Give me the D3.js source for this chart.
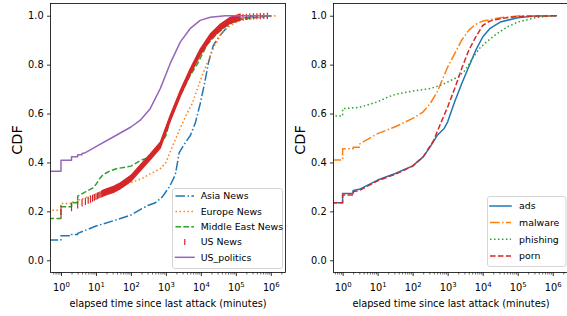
<!DOCTYPE html>
<html>
<head>
<meta charset="utf-8">
<script src="https://cdn.jsdelivr.net/npm/d3@7"></script>
<style>
  html, body { margin: 0; padding: 0; background: #fff; }
  svg { display: block; font-family: "DejaVu Sans", sans-serif; }
</style>
</head>
<body>
<svg id="chart" width="567" height="316"></svg>
<script>
// ---------------- DATA (minutes, CDF) ----------------
// 0 minutes cannot be placed on a log axis: drawn from the left edge
const asiaMin   = [0, 1, 1, 2, 2, 3, 3, 10, 32, 100, 200, 316, 500, 800, 1000, 1260, 1860, 2400, 3550, 5000, 6900, 9550, 12600, 16600, 22900, 35500, 69000, 107000, 316000, 1000000];
const asiaCdf   = [0.083, 0.083, 0.10, 0.10, 0.105, 0.105, 0.11, 0.14, 0.162, 0.185, 0.21, 0.225, 0.235, 0.26, 0.28, 0.30, 0.35, 0.44, 0.48, 0.51, 0.56, 0.64, 0.72, 0.81, 0.88, 0.92, 0.967, 0.988, 0.997, 1.0];

const europeMin = [0, 1, 1, 2, 2, 3, 3, 10, 32, 100, 200, 355, 700, 1000, 1580, 2570, 4000, 5600, 7900, 11200, 16600, 25100, 39800, 70800, 126000, 316000, 1000000, 1400000];
const europeCdf = [0.205, 0.205, 0.232, 0.232, 0.238, 0.238, 0.245, 0.27, 0.29, 0.318, 0.333, 0.353, 0.375, 0.40, 0.47, 0.54, 0.60, 0.64, 0.70, 0.76, 0.82, 0.88, 0.93, 0.96, 0.98, 0.99, 0.997, 1.0];

const meMin     = [0, 1, 1, 2, 2, 3, 3, 5, 8, 10, 13, 16, 25, 40, 100, 200, 316, 400, 500, 630, 1000, 1320, 2570, 4900, 7760, 14800, 28800, 55000, 95500, 316000, 1000000];
const meCdf     = [0.171, 0.171, 0.219, 0.219, 0.235, 0.235, 0.262, 0.28, 0.295, 0.31, 0.335, 0.35, 0.365, 0.375, 0.385, 0.41, 0.42, 0.43, 0.445, 0.465, 0.51, 0.575, 0.675, 0.755, 0.80, 0.88, 0.927, 0.96, 0.98, 0.993, 1.0];

// US News: every distinct elapsed time is a stack of '|' markers from the previous CDF to this CDF
const usNewsStart = 0.185;
const usNewsMin = [1, 2, 3, 4, 5, 6, 7, 8, 9, 10, 11, 12, 13, 14, 15, 20, 32, 50, 100, 185, 355, 690, 1320, 2570, 4900, 9550, 18600, 35500, 69000, 132000, 160000, 200000, 250000, 320000, 400000, 500000, 630000, 800000];
const usNewsCdf = [0.213, 0.224, 0.232, 0.238, 0.243, 0.248, 0.252, 0.256, 0.259, 0.262, 0.265, 0.267, 0.269, 0.271, 0.273, 0.28, 0.29, 0.305, 0.335, 0.378, 0.423, 0.471, 0.58, 0.682, 0.77, 0.851, 0.913, 0.953, 0.981, 0.994, 0.995, 0.996, 0.997, 0.998, 0.998, 0.999, 0.999, 1.0];
const usNewsDense = [15, 132000];

const usPolMin  = [0, 1, 1, 2, 2, 3, 3, 4, 4, 5, 10, 32, 100, 185, 355, 690, 1320, 2570, 4900, 9550, 18600, 50000, 1000000];
const usPolCdf  = [0.364, 0.364, 0.409, 0.409, 0.423, 0.423, 0.432, 0.432, 0.437, 0.44, 0.465, 0.505, 0.545, 0.573, 0.62, 0.702, 0.804, 0.892, 0.947, 0.981, 0.994, 1.0, 1.0];

const adsMin     = [0, 1, 1, 2, 2, 3, 10, 32, 100, 200, 316, 500, 794, 1000, 1585, 2512, 3981, 6310, 10000, 15849, 31623, 100000, 316000, 1260000];
const adsCdf     = [0.235, 0.235, 0.273, 0.273, 0.285, 0.29, 0.328, 0.355, 0.386, 0.423, 0.464, 0.51, 0.539, 0.566, 0.648, 0.722, 0.79, 0.858, 0.913, 0.947, 0.974, 0.992, 0.999, 1.0];

const malwareMin = [0, 1, 1, 2, 2, 3, 3, 10, 32, 100, 200, 316, 500, 794, 1000, 1585, 2512, 3981, 6310, 10000, 31623, 100000, 1000000, 1260000];
const malwareCdf = [0.41, 0.41, 0.456, 0.456, 0.462, 0.462, 0.475, 0.518, 0.546, 0.58, 0.607, 0.641, 0.688, 0.756, 0.79, 0.845, 0.9, 0.94, 0.965, 0.978, 0.992, 0.999, 1.0, 1.0];

const phishMin   = [0, 1, 1, 3, 10, 20, 32, 100, 316, 631, 1000, 2000, 3162, 5012, 7943, 12589, 25119, 50119, 100000, 316000, 1000000, 1260000];
const phishCdf   = [0.59, 0.59, 0.62, 0.625, 0.648, 0.668, 0.678, 0.692, 0.702, 0.716, 0.729, 0.75, 0.777, 0.824, 0.865, 0.892, 0.926, 0.954, 0.974, 0.992, 1.0, 1.0];

const pornMin    = [0, 1, 1, 2, 2, 3, 10, 32, 100, 200, 398, 631, 1000, 1585, 2512, 3981, 6310, 10000, 15849, 31623, 100000, 1260000];
const pornCdf    = [0.235, 0.235, 0.267, 0.267, 0.28, 0.285, 0.325, 0.352, 0.385, 0.423, 0.49, 0.56, 0.627, 0.702, 0.784, 0.858, 0.913, 0.96, 0.978, 0.988, 0.997, 1.0];

const xMajorExp = [0, 1, 2, 3, 4, 5, 6];
const yTicks = [0.0, 0.2, 0.4, 0.6, 0.8, 1.0];
const yLabel = "CDF";
const xLabel = "elapsed time since last attack (minutes)";

const C = { blue: "#1f77b4", orange: "#ff7f0e", green: "#2ca02c", red: "#d62728", purple: "#9467bd" };
const LW = 1.5;
const DASH = { solid: null, dashed: "5.55,2.4", dashdot: "9.6,2.4,1.5,2.4", dotted: "1.5,2.475" };

const svg = d3.select("#chart");

function makePanel(id, box, xDom) {
  const x = d3.scaleLog().domain(xDom).range([box.x0, box.x1]);
  const y = d3.scaleLinear().domain([-0.05, 1.05]).range([box.y1, box.y0]);
  const g = svg.append("g");
  svg.append("clipPath").attr("id", id).append("rect")
    .attr("x", box.x0).attr("y", box.y0).attr("width", box.x1 - box.x0).attr("height", box.y1 - box.y0);

  // minor ticks
  const minors = [];
  for (let e = -1; e <= 6; e++) for (let k = 2; k <= 9; k++) {
    const v = k * Math.pow(10, e);
    if (v >= xDom[0] && v <= xDom[1]) minors.push(v);
  }
  const minorAxis = g.append("g").attr("transform", `translate(0,${box.y1})`)
    .call(d3.axisBottom(x).tickValues(minors).tickSize(2).tickFormat(""));
  minorAxis.select(".domain").remove();
  minorAxis.selectAll("line").attr("stroke", "#000").attr("stroke-width", 0.6);

  const majorAxis = g.append("g").attr("transform", `translate(0,${box.y1})`)
    .call(d3.axisBottom(x).tickValues(xMajorExp.map(e => Math.pow(10, e))).tickSize(3.5).tickPadding(2).tickFormat(""));
  majorAxis.select(".domain").remove();
  majorAxis.selectAll("line").attr("stroke", "#000").attr("stroke-width", 0.8);
  majorAxis.selectAll(".tick").each(function(d) {
    const t = d3.select(this).select("text");
    t.attr("y", 18.5).attr("dy", null).attr("font-size", 9.8).attr("fill", "#000")
      .attr("font-family", "DejaVu Sans").attr("text-anchor", "middle");
    t.text("");
    t.append("tspan").text("10");
    t.append("tspan").attr("font-size", 6.9).attr("dy", -4.2).text(String(Math.round(Math.log10(d))));
  });

  const yAxis = g.append("g").attr("transform", `translate(${box.x0},0)`)
    .call(d3.axisLeft(y).tickValues(yTicks).tickSize(3.5).tickPadding(3.3).tickFormat(d3.format(".1f")));
  yAxis.select(".domain").remove();
  yAxis.selectAll("line").attr("stroke", "#000").attr("stroke-width", 0.8);
  yAxis.selectAll("text").attr("font-size", 9.8).attr("fill", "#000").attr("font-family", "DejaVu Sans");

  // axis labels
  g.append("text").attr("x", (box.x0 + box.x1) / 2).attr("y", 306.5)
    .attr("text-anchor", "middle").attr("font-size", 9.8).attr("fill", "#000").text(xLabel);
  g.append("text").attr("transform", `translate(${box.x0 - 29},140) rotate(-90)`)
    .attr("text-anchor", "middle").attr("font-size", 14.5).attr("fill", "#000").text(yLabel);

  const plot = svg.append("g").attr("clip-path", `url(#${id})`);
  return { x, y, g, plot, box };
}

function drawLine(P, mins, cdf, color, dash) {
  const pts = mins.map((m, i) => [m, cdf[i]]);
  const line = d3.line()
    .x(d => d[0] > 0 ? P.x(d[0]) : P.box.x0 - 2)
    .y(d => P.y(d[1]));
  P.plot.append("path").attr("d", line(pts))
    .attr("fill", "none").attr("stroke", color).attr("stroke-width", LW)
    .attr("stroke-dasharray", dash).attr("stroke-linejoin", "round")
    .attr("stroke-linecap", dash ? "butt" : "square");
}

function drawUSNews(P) {
  const pts = usNewsMin.map((m, i) => [m, usNewsCdf[i], i === 0 ? usNewsStart : usNewsCdf[i - 1]]);
  // dense region: overlapping '|' markers form a band
  const dense = pts.filter(d => d[0] >= usNewsDense[0] && d[0] <= usNewsDense[1]);
  const area = d3.area()
    .x(d => P.x(d[0]))
    .y0(d => P.y(d[1]) + 3)
    .y1(d => P.y(d[1]) - 3);
  P.plot.append("path").attr("d", area(dense))
    .attr("fill", C.red).attr("stroke", C.red).attr("stroke-width", 1.2);
  // individual marker stacks where elapsed times are sparse
  const sparse = pts.filter(d => d[0] <= usNewsDense[0] || d[0] > usNewsDense[1]);
  P.plot.selectAll("line.usn").data(sparse).enter().append("line")
    .attr("x1", d => P.x(d[0])).attr("x2", d => P.x(d[0]))
    .attr("y1", d => P.y(d[2]) + 3)
    .attr("y2", d => P.y(d[1]) - 3)
    .attr("stroke", C.red).attr("stroke-width", 1.2);
}

function frame(P) {
  const b = P.box;
  svg.append("rect").attr("x", b.x0).attr("y", b.y0).attr("width", b.x1 - b.x0).attr("height", b.y1 - b.y0)
    .attr("fill", "none").attr("stroke", "#000").attr("stroke-width", 0.8);
}

function legend(box, rowY, items, handle, textX) {
  const g = svg.append("g");
  g.append("rect").attr("x", box.x).attr("y", box.y).attr("width", box.w).attr("height", box.h)
    .attr("rx", 2.5).attr("fill", "#fff").attr("fill-opacity", 0.8).attr("stroke", "#cccccc").attr("stroke-width", 0.8);
  items.forEach((it, i) => {
    const yy = rowY[i];
    if (it.marker) {
      g.append("line").attr("x1", (handle[0] + handle[1]) / 2).attr("x2", (handle[0] + handle[1]) / 2)
        .attr("y1", yy - 3).attr("y2", yy + 3).attr("stroke", it.color).attr("stroke-width", 1.2);
    } else {
      g.append("line").attr("x1", handle[0]).attr("x2", handle[1]).attr("y1", yy).attr("y2", yy)
        .attr("stroke", it.color).attr("stroke-width", LW).attr("stroke-dasharray", it.dash)
        .attr("stroke-linecap", it.dash ? "butt" : "square");
    }
    g.append("text").attr("x", textX).attr("y", yy).attr("dy", "0.35em")
      .attr("font-size", 9.4).attr("fill", "#000").text(it.label);
  });
}

// ---------- left panel ----------
const L = makePanel("clipL", { x0: 50.5, x1: 285.5, y0: 3.5, y1: 272.5 }, [Math.pow(10, -0.3), Math.pow(10, 6.42)]);
drawLine(L, asiaMin, asiaCdf, C.blue, DASH.dashdot);
drawLine(L, europeMin, europeCdf, C.orange, DASH.dotted);
drawLine(L, meMin, meCdf, C.green, DASH.dashed);
drawUSNews(L);
drawLine(L, usPolMin, usPolCdf, C.purple, DASH.solid);
frame(L);
legend({ x: 172.5, y: 188.5, w: 110, h: 80 }, [196, 211.5, 226.8, 242, 257.3], [
  { label: "Asia News", color: C.blue, dash: DASH.dashdot },
  { label: "Europe News", color: C.orange, dash: DASH.dotted },
  { label: "Middle East News", color: C.green, dash: DASH.dashed },
  { label: "US News", color: C.red, marker: true },
  { label: "US_politics", color: C.purple, dash: DASH.solid }
], [175.5, 194], 200.7);

// ---------- right panel ----------
const R = makePanel("clipR", { x0: 333.5, x1: 568.5, y0: 3.5, y1: 272.5 }, [Math.pow(10, -0.26), Math.pow(10, 6.45)]);
drawLine(R, adsMin, adsCdf, C.blue, DASH.solid);
drawLine(R, malwareMin, malwareCdf, C.orange, DASH.dashdot);
drawLine(R, phishMin, phishCdf, C.green, DASH.dotted);
drawLine(R, pornMin, pornCdf, C.red, DASH.dashed);
frame(R);
legend({ x: 487.5, y: 196.5, w: 78.5, h: 70 }, [206, 222.5, 239.3, 256], [
  { label: "ads", color: C.blue, dash: DASH.solid },
  { label: "malware", color: C.orange, dash: DASH.dashdot },
  { label: "phishing", color: C.green, dash: DASH.dotted },
  { label: "porn", color: C.red, dash: DASH.dashed }
], [490, 511], 519);
</script>
</body>
</html>
